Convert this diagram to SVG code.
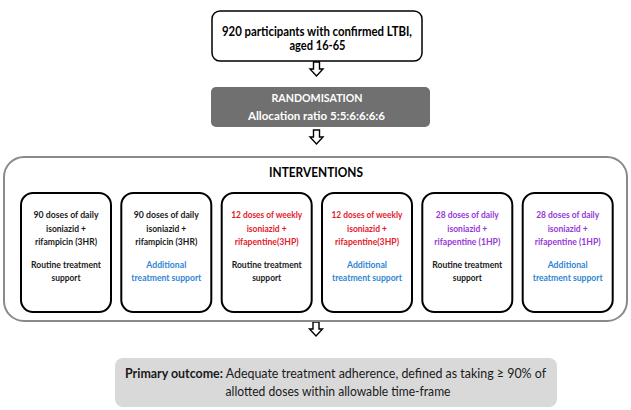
<svg xmlns="http://www.w3.org/2000/svg" width="631" height="410" viewBox="0 0 631 410">
<defs>
<style>
text{font-family:Lato,"Liberation Sans",sans-serif;text-anchor:middle}
.b{font-weight:bold}
.box{fill:#fff;stroke:#000;stroke-width:2}
.bt{font-size:10px;font-weight:bold;fill:#1a1a1a}
.red{fill:#e3202a}
.pur{fill:#9438d8}
.blu{fill:#2f86d4}
.arr{fill:#fff;stroke:#000;stroke-width:1.4;stroke-linejoin:miter}
</style>
<path id="dn" class="arr" d="M-3,0 H3 V7 H6.5 L0,14 L-6.5,7 H-3 Z"/>
</defs>
<rect width="631" height="410" fill="#fff"/>
<g id="connectors">
<use href="#dn" x="316.5" y="62"/>
<use href="#dn" x="316.5" y="130"/>
<use href="#dn" x="316" y="322"/>
</g>
<g id="participants">
<rect x="212" y="11" width="210" height="50" rx="8" fill="#fff" stroke="#000" stroke-width="1.5"/>
<text class="b" x="317" y="36" font-size="12.5" textLength="190" lengthAdjust="spacingAndGlyphs">920 participants with confirmed LTBI,</text>
<text class="b" x="317.5" y="50" font-size="12.5" textLength="56" lengthAdjust="spacingAndGlyphs">aged 16-65</text>
</g>
<g id="randomisation">
<rect x="211" y="87" width="219" height="40" rx="5" fill="#707070"/>
<text class="b" x="317" y="102" font-size="12" fill="#fff" textLength="91" lengthAdjust="spacingAndGlyphs">RANDOMISATION</text>
<text class="b" x="316.5" y="120" font-size="12" fill="#fff" textLength="137" lengthAdjust="spacingAndGlyphs">Allocation ratio 5:5:6:6:6:6</text>
</g>
<g id="interventions">
<rect x="4" y="157" width="623" height="164" rx="20" fill="#fff" stroke="#8a8a8a" stroke-width="2"/>
<text class="b" x="316" y="177" font-size="13" textLength="94" lengthAdjust="spacingAndGlyphs">INTERVENTIONS</text>
</g>
<g id="arm1">
<rect class="box" x="21" y="193" width="90" height="119" rx="12"/>
<text class="bt" x="66" y="218" textLength="65" lengthAdjust="spacingAndGlyphs">90 doses of daily</text>
<text class="bt" x="66" y="232" textLength="40" lengthAdjust="spacingAndGlyphs">isoniazid +</text>
<text class="bt" x="66" y="245" textLength="62" lengthAdjust="spacingAndGlyphs">rifampicin (3HR)</text>
<text class="bt" x="66" y="268" textLength="70" lengthAdjust="spacingAndGlyphs">Routine treatment</text>
<text class="bt" x="66" y="281" textLength="29" lengthAdjust="spacingAndGlyphs">support</text>
</g>
<g id="arm2">
<rect class="box" x="121.3" y="193" width="90" height="119" rx="12"/>
<text class="bt" x="166.3" y="218" textLength="65" lengthAdjust="spacingAndGlyphs">90 doses of daily</text>
<text class="bt" x="166.3" y="232" textLength="40" lengthAdjust="spacingAndGlyphs">isoniazid +</text>
<text class="bt" x="166.3" y="245" textLength="62" lengthAdjust="spacingAndGlyphs">rifampicin (3HR)</text>
<text class="bt blu" x="166.3" y="268" textLength="40" lengthAdjust="spacingAndGlyphs">Additional</text>
<text class="bt blu" x="166.3" y="281" textLength="70" lengthAdjust="spacingAndGlyphs">treatment support</text>
</g>
<g id="arm3">
<rect class="box" x="221.7" y="193" width="90" height="119" rx="12"/>
<text class="bt red" x="266.7" y="218" textLength="71" lengthAdjust="spacingAndGlyphs">12 doses of weekly</text>
<text class="bt red" x="266.7" y="232" textLength="40" lengthAdjust="spacingAndGlyphs">isoniazid +</text>
<text class="bt red" x="266.7" y="245" textLength="64" lengthAdjust="spacingAndGlyphs">rifapentine(3HP)</text>
<text class="bt" x="266.7" y="268" textLength="70" lengthAdjust="spacingAndGlyphs">Routine treatment</text>
<text class="bt" x="266.7" y="281" textLength="29" lengthAdjust="spacingAndGlyphs">support</text>
</g>
<g id="arm4">
<rect class="box" x="322" y="193" width="90" height="119" rx="12"/>
<text class="bt red" x="367" y="218" textLength="71" lengthAdjust="spacingAndGlyphs">12 doses of weekly</text>
<text class="bt red" x="367" y="232" textLength="40" lengthAdjust="spacingAndGlyphs">isoniazid +</text>
<text class="bt red" x="367" y="245" textLength="64" lengthAdjust="spacingAndGlyphs">rifapentine(3HP)</text>
<text class="bt blu" x="367" y="268" textLength="40" lengthAdjust="spacingAndGlyphs">Additional</text>
<text class="bt blu" x="367" y="281" textLength="70" lengthAdjust="spacingAndGlyphs">treatment support</text>
</g>
<g id="arm5">
<rect class="box" x="422.3" y="193" width="90" height="119" rx="12"/>
<text class="bt pur" x="467.3" y="218" textLength="63" lengthAdjust="spacingAndGlyphs">28 doses of daily</text>
<text class="bt pur" x="467.3" y="232" textLength="40" lengthAdjust="spacingAndGlyphs">isoniazid +</text>
<text class="bt pur" x="467.3" y="245" textLength="66" lengthAdjust="spacingAndGlyphs">rifapentine (1HP)</text>
<text class="bt" x="467.3" y="268" textLength="70" lengthAdjust="spacingAndGlyphs">Routine treatment</text>
<text class="bt" x="467.3" y="281" textLength="29" lengthAdjust="spacingAndGlyphs">support</text>
</g>
<g id="arm6">
<rect class="box" x="522.7" y="193" width="90" height="119" rx="12"/>
<text class="bt pur" x="567.7" y="218" textLength="63" lengthAdjust="spacingAndGlyphs">28 doses of daily</text>
<text class="bt pur" x="567.7" y="232" textLength="40" lengthAdjust="spacingAndGlyphs">isoniazid +</text>
<text class="bt pur" x="567.7" y="245" textLength="66" lengthAdjust="spacingAndGlyphs">rifapentine (1HP)</text>
<text class="bt blu" x="567.7" y="268" textLength="40" lengthAdjust="spacingAndGlyphs">Additional</text>
<text class="bt blu" x="567.7" y="281" textLength="70" lengthAdjust="spacingAndGlyphs">treatment support</text>
</g>
<g id="outcome">
<rect x="115" y="358" width="442" height="49" rx="8" fill="#d9d9d9"/>
<text x="335.5" y="378" font-size="12.5" fill="#1a1a1a" textLength="421" lengthAdjust="spacingAndGlyphs"><tspan font-weight="bold">Primary outcome:</tspan> Adequate treatment adherence, defined as taking ≥ 90% of</text>
<text x="338" y="396" font-size="12.5" fill="#1a1a1a" textLength="225" lengthAdjust="spacingAndGlyphs">allotted doses within allowable time-frame</text>
</g>
</svg>
